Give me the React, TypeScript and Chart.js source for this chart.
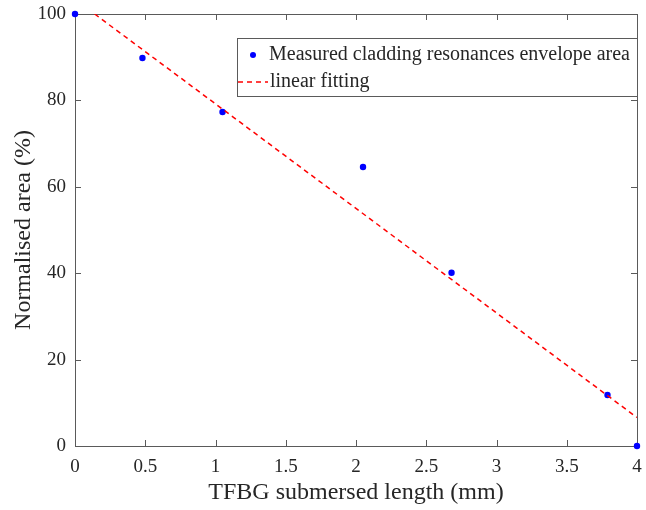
import { useEffect, useRef } from "react";
import { Chart, registerables } from "chart.js";

Chart.register(...registerables);

const measuredX = [0, 0.48, 1.05, 2.05, 2.68, 3.79, 4];
const measuredY = [100, 89.8, 77.3, 64.6, 40.1, 11.8, 0];
const fitX = [0.14, 4];
const fitY = [100, 6.6];
const xTickValues = [0, 0.5, 1, 1.5, 2, 2.5, 3, 3.5, 4];
const yTickValues = [0, 20, 40, 60, 80, 100];
const seriesLabels = ["Measured cladding resonances envelope area", "linear fitting"];
const xTitle = "TFBG submersed length (mm)";
const yTitle = "Normalised area (%)";

const FONT = "'Liberation Serif', 'Times New Roman', serif";
const AXIS_COLOR = "#5a5a5a";
const TEXT_COLOR = "#262626";
const BLUE = "#0000ff";
const RED = "#ff0000";

const framePlugin = {
  id: "frame",
  beforeDatasetsDraw(chart: any) {
    const { ctx, chartArea: a, scales } = chart;
    ctx.save();
    ctx.strokeStyle = AXIS_COLOR;
    ctx.lineWidth = 1;
    ctx.strokeRect(a.left + 0.5, a.top + 0.5, a.right - a.left, a.bottom - a.top);
    const t = 6;
    ctx.beginPath();
    for (const v of xTickValues) {
      const px = Math.round(scales.x.getPixelForValue(v)) + 0.5;
      ctx.moveTo(px, a.bottom);
      ctx.lineTo(px, a.bottom - t);
      ctx.moveTo(px, a.top);
      ctx.lineTo(px, a.top + t);
    }
    for (const v of yTickValues) {
      const py = Math.round(scales.y.getPixelForValue(v)) + 0.5;
      ctx.moveTo(a.left, py);
      ctx.lineTo(a.left + t, py);
      ctx.moveTo(a.right, py);
      ctx.lineTo(a.right - t, py);
    }
    ctx.stroke();
    ctx.restore();
  },
  afterDraw(chart: any) {
    const { ctx, chartArea: a } = chart;
    ctx.save();
    const w = 400;
    const h = 58;
    const left = a.right - w;
    const top = a.top + 24;
    ctx.fillStyle = "#ffffff";
    ctx.fillRect(left, top, w, h);
    ctx.strokeStyle = AXIS_COLOR;
    ctx.lineWidth = 1;
    ctx.strokeRect(left + 0.5, top + 0.5, w, h);
    // row 1
    ctx.fillStyle = BLUE;
    ctx.beginPath();
    ctx.arc(left + 16, top + 17, 3, 0, Math.PI * 2);
    ctx.fill();
    ctx.fillStyle = TEXT_COLOR;
    ctx.font = `20px ${FONT}`;
    ctx.textBaseline = "middle";
    ctx.textAlign = "left";
    ctx.fillText(seriesLabels[0], left + 32, top + 17);
    // row 2
    ctx.strokeStyle = RED;
    ctx.lineWidth = 1.5;
    ctx.setLineDash([5, 4]);
    ctx.beginPath();
    ctx.moveTo(left + 1, top + 44);
    ctx.lineTo(left + 31, top + 44);
    ctx.stroke();
    ctx.setLineDash([]);
    ctx.fillText(seriesLabels[1], left + 33, top + 44);
    ctx.restore();
  },
};

export default function App() {
  const ref = useRef<HTMLCanvasElement | null>(null);
  useEffect(() => {
    if (!ref.current) return;
    const chart = new Chart(ref.current, {
      type: "scatter",
      data: {
        datasets: [
          {
            type: "line",
            label: seriesLabels[1],
            data: fitX.map((x, i) => ({ x, y: fitY[i] })),
            borderColor: RED,
            borderWidth: 1.5,
            borderDash: [5, 4],
            pointRadius: 0,
            showLine: true,
            fill: false,
          } as any,
          {
            type: "scatter",
            label: seriesLabels[0],
            data: measuredX.map((x, i) => ({ x, y: measuredY[i] })),
            backgroundColor: BLUE,
            borderColor: BLUE,
            pointRadius: 3.2,
            borderWidth: 0,
            clip: false,
          } as any,
        ],
      },
      options: {
        animation: false,
        responsive: false,
        devicePixelRatio: 1,
        layout: { padding: { left: 9, top: 14, right: 9, bottom: 3 } },
        plugins: { legend: { display: false }, tooltip: { enabled: false } },
        scales: {
          x: {
            type: "linear",
            min: 0,
            max: 4,
            grid: { display: false },
            border: { display: false },
            afterBuildTicks: (s: any) => {
              s.ticks = xTickValues.map((v) => ({ value: v }));
            },
            afterFit: (s: any) => {
              s.height = 61;
            },
            ticks: {
              color: TEXT_COLOR,
              font: { family: FONT, size: 19 },
              padding: 2,
              maxRotation: 0,
              callback: (v: any) => String(v),
            },
            title: {
              display: true,
              text: xTitle,
              color: TEXT_COLOR,
              font: { family: FONT, size: 24 },
              padding: { top: 0, bottom: 0 },
            },
          },
          y: {
            type: "linear",
            min: 0,
            max: 100,
            grid: { display: false },
            border: { display: false },
            afterBuildTicks: (s: any) => {
              s.ticks = yTickValues.map((v) => ({ value: v }));
            },
            afterFit: (s: any) => {
              s.width = 66;
            },
            ticks: {
              color: TEXT_COLOR,
              font: { family: FONT, size: 19 },
              padding: 1,
              callback: (v: any) => String(v),
            },
            title: {
              display: true,
              text: yTitle,
              color: TEXT_COLOR,
              font: { family: FONT, size: 24 },
              padding: { top: 0, bottom: 0 },
            },
          },
        },
      },
      plugins: [framePlugin],
    });
    return () => chart.destroy();
  }, []);
  return (
    <div style={{ position: "fixed", left: 0, top: 0, width: 646, height: 510, background: "#fff" }}>
      <canvas ref={ref} width={646} height={510} style={{ width: 646, height: 510 }} />
    </div>
  );
}
